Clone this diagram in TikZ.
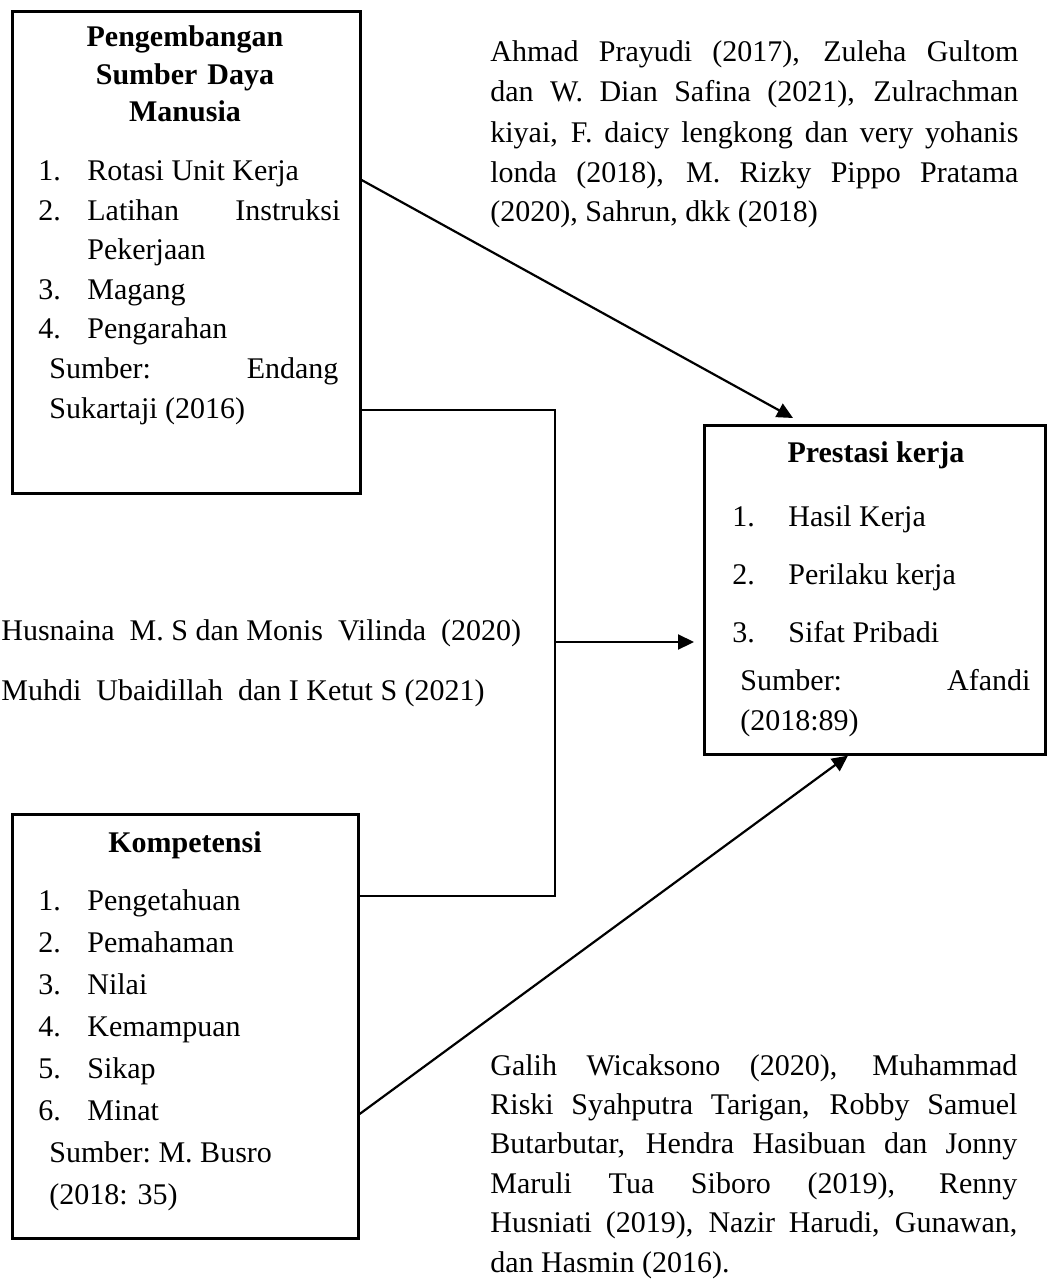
\documentclass[tikz,border=0pt]{standalone}
\usepackage{fontspec}
\setmainfont{Liberation Serif}
\usetikzlibrary{arrows.meta,calc}

\tolerance=10000
\hyphenpenalty=10000

\tikzset{
  kotak/.style={draw, line width=1.3pt, inner sep=0pt, anchor=north west},
  isi/.style={inner sep=0pt, anchor=base west, font=\fontsize{15}{20}\selectfont},
  judul/.style={inner sep=0pt, anchor=base, font=\fontsize{15}{18.75}\selectfont\bfseries},
  paragraf/.style={inner sep=0pt, anchor=base west, align=justify, font=\fontsize{15}{20}\selectfont},
  garis/.style={line width=1.1pt},
  panah/.style={line width=1.1pt, -{Triangle[length=8pt,width=7.5pt]}},
}

\begin{document}
\begin{tikzpicture}[x=.5pt,y=-.5pt]
      \useasboundingbox (0,0) rectangle (1046,1279);

      %% boxes
      \node[kotak, minimum width=174pt, minimum height=241pt] (psdm) at (11,10) {};
      \node[kotak, minimum width=170.5pt, minimum height=164.5pt] (prestasi) at (703,424) {};
      \node[kotak, minimum width=173pt, minimum height=212pt] (komp) at (11,813) {};

      %% Pengembangan SDM
      \node[judul, text width=174pt, align=center] (psdmjudul) at (185,47) {Pengembangan\\Sumber Daya\\Manusia};
      \node[isi] (psdm1n) at (38,180) {1.};
      \node[isi] (psdm1) at (87,180) {Rotasi Unit Kerja};
      \node[isi] (psdm2n) at (38,220) {2.};
      \node[paragraf, text width=126.5pt] (psdm2) at (87,220) {Latihan Instruksi\linebreak Pekerjaan};
      \node[isi] (psdm3n) at (38,299) {3.};
      \node[isi] (psdm3) at (87,299) {Magang};
      \node[isi] (psdm4n) at (38,338) {4.};
      \node[isi] (psdm4) at (87,338) {Pengarahan};
      \node[paragraf, text width=144.5pt] (psdmsumber) at (49,378) {Sumber: Endang\linebreak Sukartaji (2016)};

      %% Prestasi kerja
      \node[judul] (prestasijudul) at (876,462) {Prestasi kerja};
      \node[isi] (prestasi1n) at (732,526) {1.};
      \node[isi] (prestasi1) at (788,526) {Hasil Kerja};
      \node[isi] (prestasi2n) at (732,584) {2.};
      \node[isi] (prestasi2) at (788,584) {Perilaku kerja};
      \node[isi] (prestasi3n) at (732,642) {3.};
      \node[isi] (prestasi3) at (788,642) {Sifat Pribadi};
      \node[paragraf, text width=145pt] (prestasisumber) at (740,690) {Sumber: Afandi\linebreak (2018:89)};

      %% Kompetensi
      \node[judul] (kompjudul) at (185,852) {Kompetensi};
      \foreach \i/\teks in {1/Pengetahuan,2/Pemahaman,3/Nilai,4/Kemampuan,5/Sikap,6/Minat} {
        \node[isi] (komp\i n) at (38,{910+42*(\i-1)}) {\i.};
        \node[isi] (komp\i) at (87,{910+42*(\i-1)}) {\teks};
      }
      \node[isi] (kompsumber1) at (49,1162) {Sumber:\ M. Busro};
      \node[isi] (kompsumber2) at (49,1204) {(2018: 35)};

      %% references
      \node[paragraf, text width=264pt] (refatas) at (490,62) {Ahmad Prayudi (2017), Zuleha Gultom\linebreak dan W. Dian Safina (2021), Zulrachman\linebreak kiyai, F. daicy lengkong dan very yohanis\linebreak londa (2018), M. Rizky Pippo Pratama\linebreak (2020), Sahrun, dkk (2018)};
      \node[isi] (reftengah1) at (1,640) {Husnaina\ \ M. S dan Monis\ \ Vilinda\ \ (2020)};
      \node[isi] (reftengah2) at (1,700) {Muhdi\ \ Ubaidillah\ \ dan I Ketut S (2021)};
      \node[paragraf, text width=263.5pt, font=\fontsize{15}{19.7}\selectfont] (refbawah) at (490,1075) {Galih Wicaksono (2020), Muhammad\linebreak Riski Syahputra Tarigan, Robby Samuel\linebreak Butarbutar, Hendra Hasibuan dan Jonny\linebreak Maruli Tua Siboro (2019), Renny\linebreak Husniati (2019), Nazir Harudi, Gunawan,\linebreak dan Hasmin (2016).};

      %% connectors
      \coordinate (simpul) at (555,896);
      \coordinate (cabang) at (555,642);
      \draw[panah] ($(psdm.north east)+(0,170)$) -- ($(prestasi.north west)+(90,-6)$);
      \draw[garis] ($(psdm.north east)+(0,400)$) -| (simpul) -- ($(komp.north east)+(0,83)$);
      \draw[panah] (cabang) -- ($(prestasi.west |- cabang)+(-9,0)$);
      \draw[panah] ($(komp.north east)+(0,301)$) -- ($(prestasi.south west)+(145,0)$);
    \end{tikzpicture}
\end{document}
